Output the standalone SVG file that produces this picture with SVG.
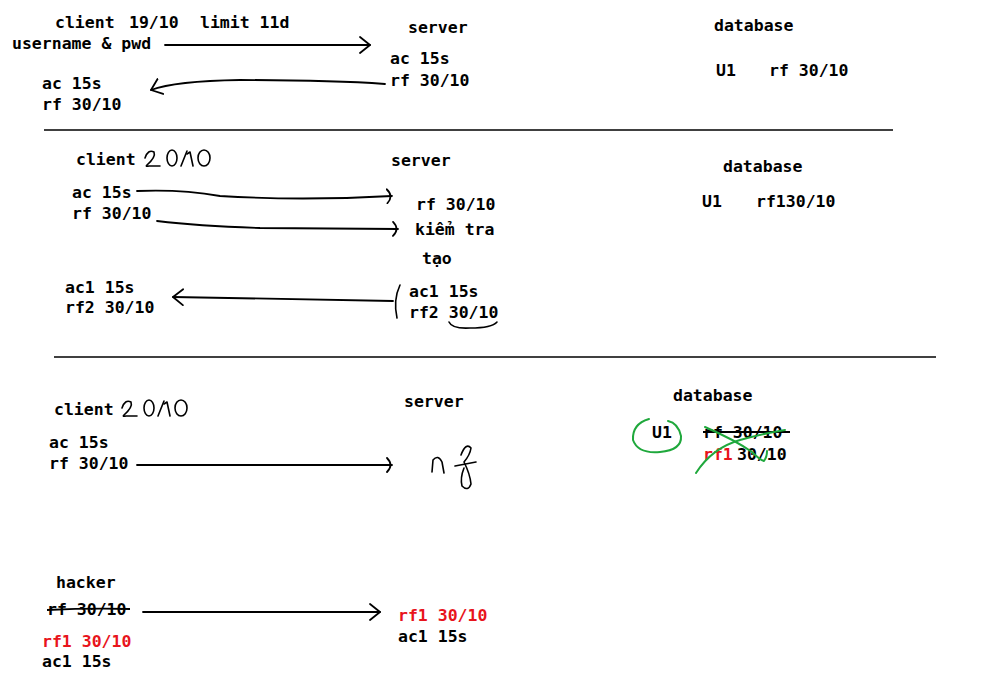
<svg xmlns="http://www.w3.org/2000/svg" width="984" height="699" viewBox="0 0 984 699">
<style>
text{font-family:"DejaVu Sans Mono","Liberation Mono",monospace;font-weight:bold;font-size:16.5px;fill:#000}
.red{fill:#e8141c}
.ln{fill:none;stroke:#000;stroke-width:1.8;stroke-linecap:round;stroke-linejoin:round}
.hand{fill:none;stroke:#000;stroke-width:1.6;stroke-linecap:round;stroke-linejoin:round}
.green{fill:none;stroke:#1fa83c;stroke-width:2;stroke-linecap:round;stroke-linejoin:round}
.sep{stroke:#000;stroke-width:1.6}
</style>
<defs>
<marker id="chev" viewBox="0 0 12 18" refX="11" refY="9" markerWidth="12" markerHeight="18" markerUnits="userSpaceOnUse" orient="auto">
<path d="M1,1 L11,9 L1,17" fill="none" stroke="#000" stroke-width="1.8" stroke-linecap="round" stroke-linejoin="round"/>
</marker>
<marker id="paren" viewBox="0 0 8 16" refX="6" refY="8" markerWidth="8" markerHeight="16" markerUnits="userSpaceOnUse" orient="auto">
<path d="M1,1 Q8,8 1,15" fill="none" stroke="#000" stroke-width="1.8" stroke-linecap="round"/>
</marker>
<g id="date2010">
<path class="hand" d="M0,8 Q3,-1 9,2 Q11,7 2,15 Q0,17 4,16 L15,16"/>
<ellipse class="hand" cx="27" cy="8" rx="5" ry="8"/>
<path class="hand" d="M36,16 L42,1"/>
<path class="hand" d="M42,4 L45,2 L48,16"/>
<ellipse class="hand" cx="59" cy="8" rx="6" ry="8"/>
</g>
</defs>
<rect width="984" height="699" fill="#fff"/>

<g id="separators">
<line class="sep" x1="44" y1="130" x2="893" y2="130"/>
<line class="sep" x1="54" y1="357" x2="936" y2="357"/>
</g>

<!-- Section 1 -->
<g id="client1">
<text x="55" y="28">client</text>
<text x="129" y="28">19/10</text>
<text x="200" y="28">limit 11d</text>
<text x="12" y="49">username &amp; pwd</text>
<text x="42" y="89">ac 15s</text>
<text x="42" y="110">rf 30/10</text>
</g>
<g id="server1">
<text x="408" y="33">server</text>
<text x="390" y="64">ac 15s</text>
<text x="390" y="86">rf 30/10</text>
</g>
<g id="database1">
<text x="714" y="31">database</text>
<text x="716" y="76">U1</text>
<text x="769" y="76">rf 30/10</text>
</g>

<!-- Section 2 -->
<g id="client2">
<text x="76" y="165">client</text>
<use href="#date2010" x="145" y="150"/>
<text x="72" y="198">ac 15s</text>
<text x="72" y="219">rf 30/10</text>
<text x="65" y="293">ac1 15s</text>
<text x="65" y="313">rf2 30/10</text>
</g>
<g id="server2">
<text x="391" y="166">server</text>
<text x="416" y="210">rf 30/10</text>
<text x="415" y="235">kiểm tra</text>
<text x="422" y="264">tạo</text>
<path class="hand" d="M400,285 Q393,300 397,318"/>
<text x="409" y="297">ac1 15s</text>
<text x="409" y="318">rf2 30/10</text>
<path class="hand" d="M449,322 Q452,329 470,328 Q492,328 497,322"/>
</g>
<g id="database2">
<text x="723" y="172">database</text>
<text x="702" y="207">U1</text>
<text x="756" y="207">rf130/10</text>
</g>

<!-- Section 3 -->
<g id="client3">
<text x="54" y="415">client</text>
<use href="#date2010" x="122" y="400"/>
<text x="49" y="448">ac 15s</text>
<text x="49" y="469">rf 30/10</text>
</g>
<g id="server3">
<text x="404" y="407">server</text>
<path class="hand" d="M432,472 L433,460 Q438,454 442,462 L444,473"/>
<path class="hand" d="M455,466 L476,462"/>
<path class="hand" d="M461,455 Q466,442 471,448 Q470,455 464,462 Q470,474 471,484 Q468,492 462,486 Q460,478 464,468"/>
</g>
<g id="database3">
<text x="673" y="401">database</text>
<text x="652" y="438">U1</text>
<path class="green" d="M649,419 Q632,424 633,440 Q638,454 660,452 Q682,450 681,436 Q678,423 668,421"/>
<text x="703" y="438">rf 30/10</text>
<line x1="703" y1="432" x2="790" y2="432" stroke="#000" stroke-width="1.8"/>
<text x="703" y="460" class="red">rf1</text>
<text x="737" y="460">30/10</text>
<path class="green" d="M705,427 Q735,440 752,452 Q760,460 764,461 Q767,457 767,451"/>
<path class="green" d="M696,473 Q712,448 740,440 Q765,433 785,430"/>
</g>

<!-- Section 4 -->
<g id="hacker">
<text x="56" y="588">hacker</text>
<text x="47" y="615">rf 30/10</text>
<path d="M47,610 Q90,608 130,609" fill="none" stroke="#000" stroke-width="1.8"/>
<text x="42" y="647" class="red">rf1 30/10</text>
<text x="42" y="667">ac1 15s</text>
</g>
<g id="server4">
<text x="398" y="621" class="red">rf1 30/10</text>
<text x="398" y="642">ac1 15s</text>
</g>

<g id="connectors">
<path class="ln" d="M165,45 L370,45" marker-end="url(#chev)"/>
<path class="ln" d="M385,84 Q330,80 240,80 Q175,81 151,90" marker-end="url(#chev)"/>
<path class="ln" d="M137,191 Q180,189 220,196 Q300,201 392,196" marker-end="url(#paren)"/>
<path class="ln" d="M157,221 Q200,226 260,228 L398,229" marker-end="url(#paren)"/>
<path class="ln" d="M393,301 L173,297" marker-end="url(#chev)"/>
<path class="ln" d="M137,465 L392,465" marker-end="url(#paren)"/>
<path class="ln" d="M143,612 L380,612" marker-end="url(#chev)"/>
</g>
</svg>
